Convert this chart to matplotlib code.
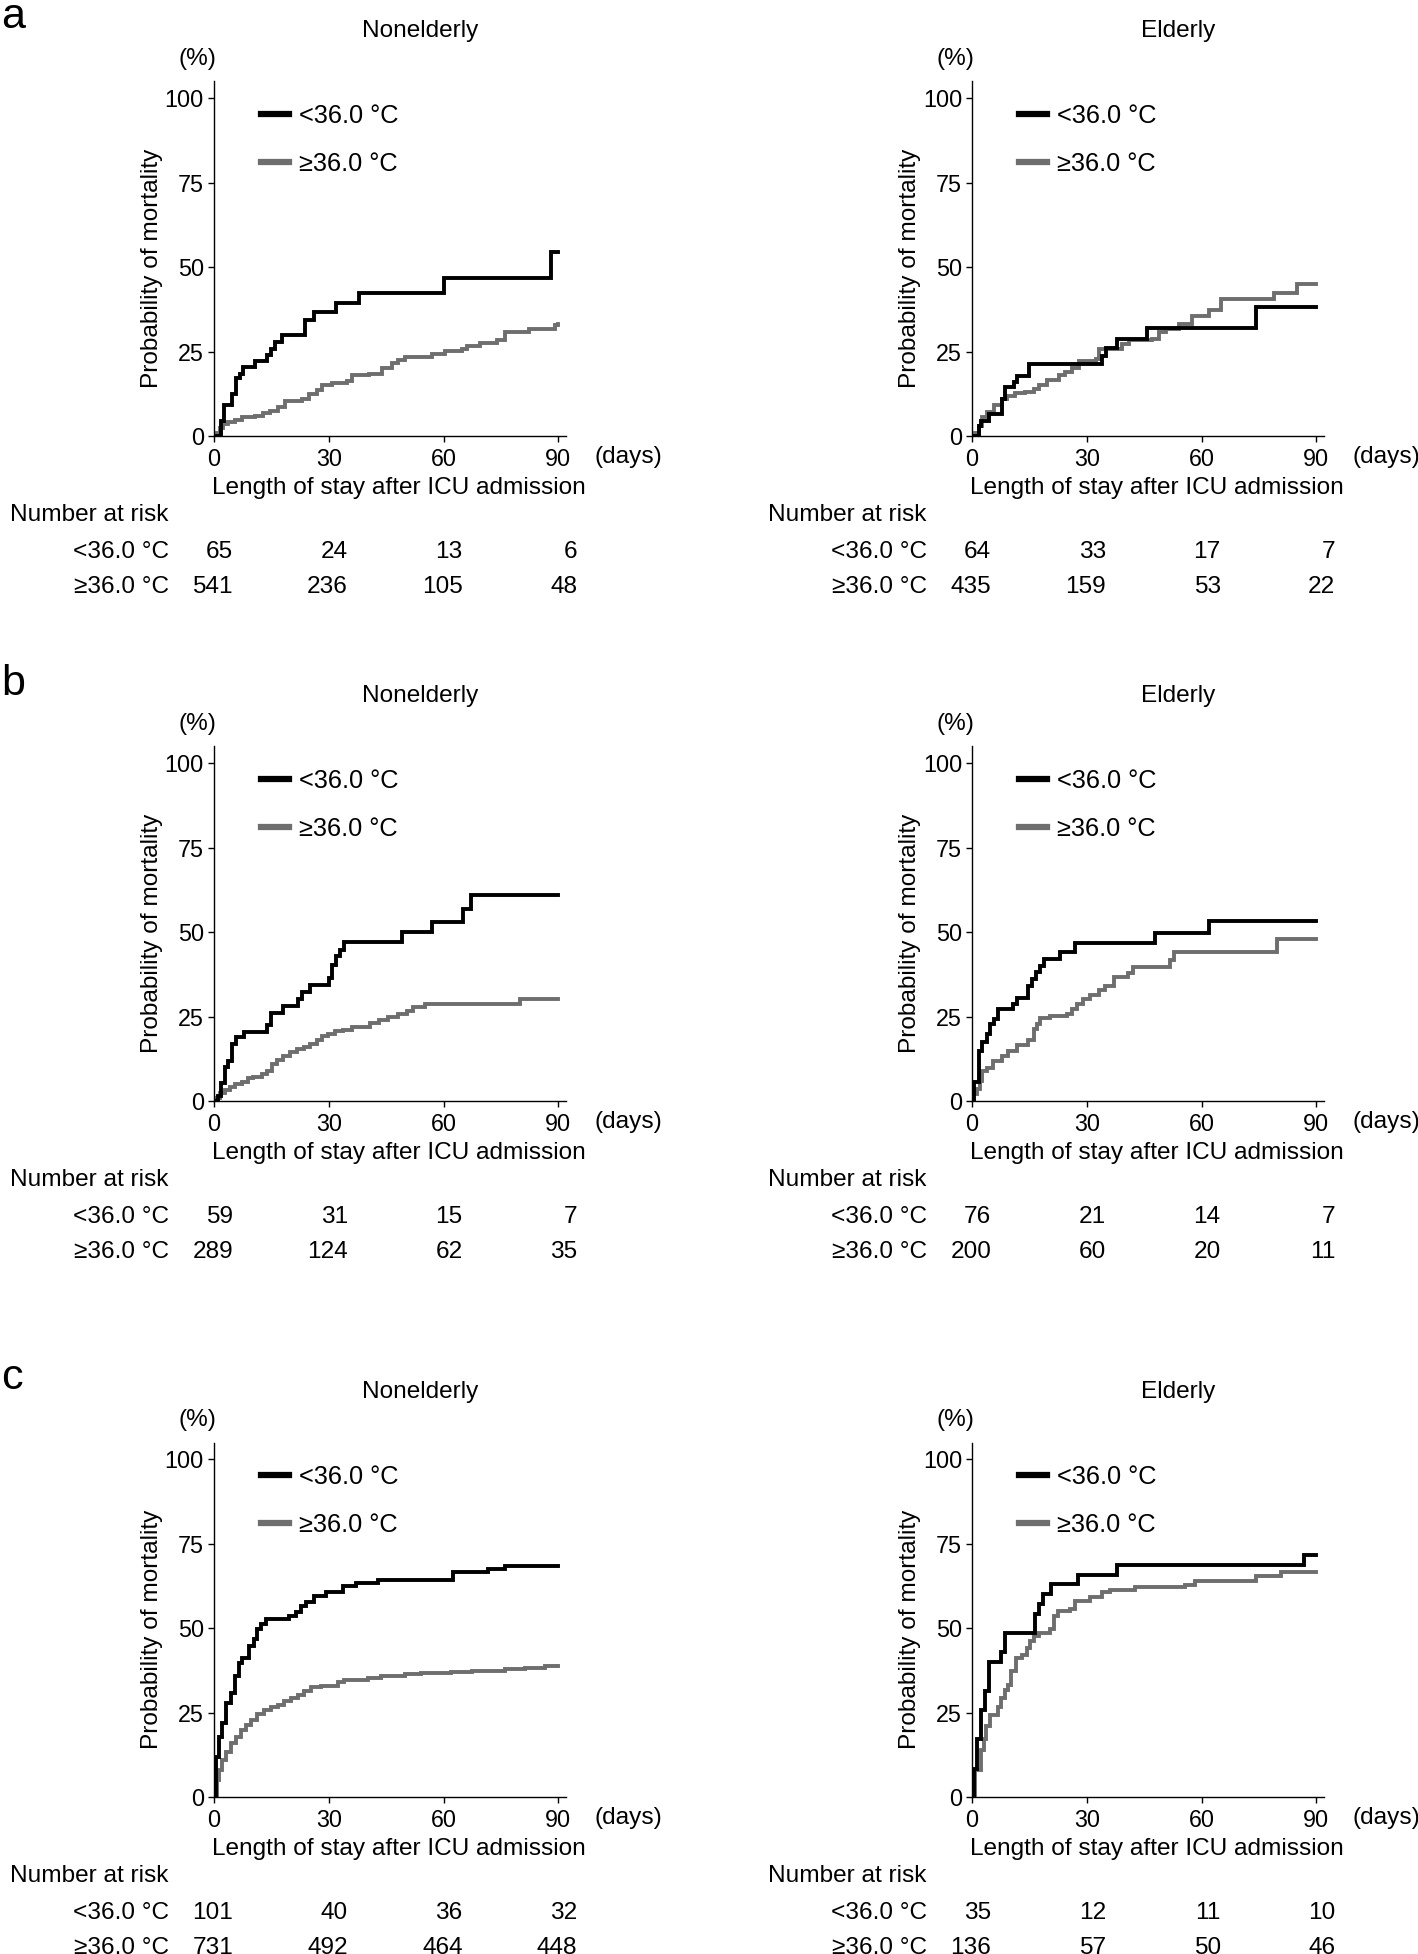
import matplotlib
matplotlib.use("Agg")
import matplotlib.pyplot as plt
from matplotlib.lines import Line2D
import matplotlib.transforms as mtransforms

plt.rcParams['font.family'] = ['Liberation Sans', 'DejaVu Sans']
plt.rcParams['font.size'] = 17.6

# ---------------- data (days, cumulative mortality %) ----------------
# Panel a, Nonelderly
a_non_lo_t = [0, 1.7, 2.6, 4.6, 5.8, 6.7, 7.7, 10.7, 13.9, 14.8, 16.0, 17.9, 23.8, 26.2, 31.8, 37.9, 60.0, 88.1, 90]
a_non_lo_y = [0, 4.5, 9.2, 12.4, 17.1, 18.4, 20.4, 22.1, 23.9, 25.8, 27.8, 30.0, 34.3, 36.8, 39.5, 42.4, 46.7, 54.5, 54.5]
a_non_hi_t = [0, 0.7, 1.6, 2.4, 3.7, 5.5, 7.2, 10.7, 12.9, 14.6, 16.8, 18.6, 22.9, 24.7, 26.9, 28.2, 30.8, 34.7, 36.0,
              40.4, 43.9, 46.5, 48.2, 50.0, 56.9, 60.4, 64.8, 66.1, 69.6, 73.9, 76.1, 82.2, 89.2, 90]
a_non_hi_y = [0, 1.0, 2.5, 3.5, 4.2, 4.8, 5.5, 6.0, 6.7, 7.5, 8.6, 10.4, 11.1, 12.4, 13.6, 15.2, 15.7, 16.4, 18.2,
              18.4, 20.1, 21.6, 22.4, 23.4, 24.4, 25.3, 25.8, 26.8, 27.5, 28.3, 30.8, 31.8, 32.8, 33.3]
# Panel a, Elderly
a_eld_lo_t = [0, 1.7, 2.4, 4.4, 7.8, 8.7, 10.9, 11.8, 15.0, 34.0, 34.9, 37.9, 45.8, 74.1, 90]
a_eld_lo_y = [0, 3.0, 4.5, 6.5, 10.9, 14.4, 15.9, 17.9, 21.4, 23.6, 26.1, 28.8, 32.0, 38.3, 38.3]
a_eld_hi_t = [0, 0.7, 1.7, 2.6, 3.9, 5.7, 7.8, 9.2, 11.3, 13.9, 16.1, 17.4, 19.6, 22.7, 24.4, 26.2, 27.9, 32.3, 33.1,
              39.2, 41.0, 47.1, 48.8, 50.6, 54.1, 57.5, 61.9, 65.0, 78.9, 85.0, 90]
a_eld_hi_y = [0, 1.0, 3.0, 5.5, 7.0, 9.2, 10.9, 11.9, 12.6, 13.0, 13.9, 15.2, 16.6, 18.1, 18.9, 20.2, 22.2, 22.9, 25.8,
              27.3, 28.3, 28.8, 30.8, 31.8, 33.1, 35.5, 37.3, 40.5, 42.4, 45.0, 45.0]
# Panel b, Nonelderly
b_non_lo_t = [0, 1.0, 1.8, 2.9, 3.75, 4.6, 5.75, 7.85, 13.95, 14.8, 17.96, 22.06, 22.93, 25.1, 30.1, 30.95, 31.8,
              32.96, 34.1, 49.1, 56.9, 65.0, 67.1, 90]
b_non_lo_y = [0, 1.5, 5.2, 10.1, 11.9, 16.9, 18.9, 20.4, 22.4, 26.1, 28.1, 30.3, 32.3, 34.3, 36.5, 40.3, 42.9,
              44.7, 47.2, 50.0, 53.0, 57.0, 60.9, 60.9]
b_non_hi_t = [0, 0.3, 1.6, 2.9, 4.2, 5.5, 7.2, 9.0, 10.3, 12.5, 13.8, 15.1, 16.4, 18.1, 19.9, 21.6, 23.4, 25.1, 26.9,
              28.2, 29.9, 31.6, 33.8, 36.0, 40.8, 43.0, 45.6, 48.2, 50.4, 52.1, 55.2, 80.0, 90]
b_non_hi_y = [0, 1.0, 2.5, 3.2, 4.0, 5.0, 5.7, 6.8, 7.2, 8.0, 8.9, 11.1, 12.2, 13.4, 14.6, 15.4, 15.9, 16.9, 18.1,
              19.4, 19.9, 20.6, 21.1, 21.9, 23.1, 23.9, 24.9, 25.8, 26.8, 27.8, 28.8, 30.3, 30.3]
# Panel b, Elderly
b_eld_lo_t = [0, 0.6, 1.7, 2.7, 3.8, 4.7, 5.8, 6.7, 10.8, 11.7, 14.7, 15.6, 16.7, 17.8, 18.7, 23.0, 27.0, 47.9, 62.0, 90]
b_eld_lo_y = [0, 5.5, 14.7, 17.4, 19.9, 22.9, 24.4, 27.3, 28.8, 30.5, 34.0, 36.0, 38.3, 40.0, 42.0, 44.2, 46.7,
              49.9, 53.2, 53.2]
b_eld_hi_t = [0, 0.35, 1.2, 2.1, 2.5, 3.8, 5.6, 7.8, 9.5, 11.7, 14.7, 16.1, 16.9, 17.8, 20.4, 24.8, 26.1, 27.4, 29.1,
              30.9, 33.1, 34.8, 37.0, 40.9, 42.2, 51.8, 52.7, 79.8, 90]
b_eld_hi_y = [0, 2.0, 3.5, 6.0, 8.9, 9.7, 11.9, 13.4, 14.7, 16.7, 18.1, 21.4, 22.9, 24.7, 25.3, 25.8, 27.3, 28.6,
              30.3, 31.3, 32.8, 34.0, 36.8, 37.8, 39.8, 41.7, 44.0, 47.9, 47.9]
# Panel c, Nonelderly
c_non_lo_t = [0, 0.44, 1.31, 2.19, 3.23, 4.37, 5.42, 6.47, 7.43, 9.18, 10.49, 11.36, 12.41, 13.55, 19.67, 21.42,
              22.73, 24.04, 26.22, 29.28, 33.65, 37.15, 42.83, 62.5, 71.68, 76.05, 90]
c_non_lo_y = [0, 11.9, 17.7, 21.9, 27.8, 30.8, 35.8, 39.8, 41.3, 44.7, 46.7, 49.7, 51.2, 52.7, 53.5, 54.7,
              56.5, 57.7, 59.4, 60.6, 62.4, 63.4, 64.3, 66.6, 67.4, 68.4, 68.4]
c_non_hi_t = [0, 0.7, 1.31, 2.19, 3.06, 4.37, 5.68, 6.99, 8.30, 9.62, 11.36, 13.11, 14.86, 16.61, 18.36, 20.1,
              21.85, 23.6, 25.35, 27.97, 32.34, 34.09, 36.71, 40.21, 43.71, 49.83, 54.2, 62.06, 67.31, 76.05,
              81.29, 86.54, 90]
c_non_hi_y = [0, 5.0, 8.0, 10.9, 13.4, 15.9, 17.9, 19.9, 21.4, 22.9, 24.7, 25.8, 26.8, 27.3, 28.3, 29.3,
              30.3, 31.5, 32.5, 33.0, 34.0, 34.6, 34.8, 35.1, 35.8, 36.3, 36.6, 37.0, 37.3, 37.8,
              38.3, 38.8, 38.8]
# Panel c, Elderly
c_eld_lo_t = [0, 0.44, 1.4, 2.45, 3.32, 4.37, 7.69, 8.57, 16.43, 17.48, 18.62, 20.63, 27.8, 37.85, 86.8, 90]
c_eld_lo_y = [0, 8.4, 17.1, 25.8, 31.3, 40.0, 42.9, 48.5, 54.2, 57.2, 60.1, 63.1, 65.9, 68.8, 71.6, 71.6]
c_eld_hi_t = [0, 0.9, 2.45, 3.15, 3.76, 4.63, 6.82, 7.69, 8.57, 9.44, 10.31, 11.63, 12.94, 14.25, 15.12, 16.26,
              17.48, 20.37, 21.5, 22.55, 25.61, 26.92, 30.86, 33.92, 36.1, 42.66, 55.77, 58.39, 74.13, 80.68, 90]
c_eld_hi_y = [0, 8.0, 14.0, 17.1, 20.9, 24.4, 26.8, 29.3, 31.8, 33.3, 37.3, 41.3, 42.2, 44.2, 46.2, 47.7,
              48.7, 49.9, 53.7, 55.2, 55.7, 58.2, 59.1, 60.6, 61.3, 62.1, 62.8, 64.1, 65.4, 66.6, 66.6]

# Number at risk at days 0, 30, 60, 90
risk_days = [0, 30, 60, 90]
a_non_risk_lo = [65, 24, 13, 6]
a_non_risk_hi = [541, 236, 105, 48]
a_eld_risk_lo = [64, 33, 17, 7]
a_eld_risk_hi = [435, 159, 53, 22]
b_non_risk_lo = [59, 31, 15, 7]
b_non_risk_hi = [289, 124, 62, 35]
b_eld_risk_lo = [76, 21, 14, 7]
b_eld_risk_hi = [200, 60, 20, 11]
c_non_risk_lo = [101, 40, 36, 32]
c_non_risk_hi = [731, 492, 464, 448]
c_eld_risk_lo = [35, 12, 11, 10]
c_eld_risk_hi = [136, 57, 50, 46]

group_labels = ['<36.0 °C', '≥36.0 °C']
panel_titles = ['Nonelderly', 'Elderly']
panel_letters = ['a', 'b', 'c']
x_ticks = [0, 30, 60, 90]
y_ticks = [0, 25, 50, 75, 100]

# ---------------- styling ----------------
BLACK = '#000000'
GRAY = '#6e6e6e'
LW = 2.8
FS = 17.6
FS_TICK = 16.8
FS_LEG = 18.3

W, H = 1418, 1954
fig = plt.figure(figsize=(W / 100, H / 100), dpi=100)

ax_w = 352 / W
ax_h = 354.5 / H
lefts = [214 / W, 972 / W]
bottoms = [1 - 436 / H, 1 - 1101 / H, 1 - 1797 / H]
letter_y = [1 - 28 / H, 1 - 695 / H, 1 - 1389 / H]

panels = [
    [(a_non_lo_t, a_non_lo_y, a_non_hi_t, a_non_hi_y, a_non_risk_lo, a_non_risk_hi),
     (a_eld_lo_t, a_eld_lo_y, a_eld_hi_t, a_eld_hi_y, a_eld_risk_lo, a_eld_risk_hi)],
    [(b_non_lo_t, b_non_lo_y, b_non_hi_t, b_non_hi_y, b_non_risk_lo, b_non_risk_hi),
     (b_eld_lo_t, b_eld_lo_y, b_eld_hi_t, b_eld_hi_y, b_eld_risk_lo, b_eld_risk_hi)],
    [(c_non_lo_t, c_non_lo_y, c_non_hi_t, c_non_hi_y, c_non_risk_lo, c_non_risk_hi),
     (c_eld_lo_t, c_eld_lo_y, c_eld_hi_t, c_eld_hi_y, c_eld_risk_lo, c_eld_risk_hi)],
]

for r in range(3):
    fig.text(0.001, letter_y[r], panel_letters[r], fontsize=31, ha='left', va='baseline')
    for c in range(2):
        lo_t, lo_y, hi_t, hi_y, rlo, rhi = panels[r][c]
        ax = fig.add_axes([lefts[c], bottoms[r], ax_w, ax_h])
        ax.step(hi_t, hi_y, where='post', color=GRAY, lw=LW, solid_joinstyle='miter')
        ax.step(lo_t, lo_y, where='post', color=BLACK, lw=LW, solid_joinstyle='miter')
        ax.set_xlim(0, 92)
        ax.set_ylim(0, 105)
        ax.set_xticks(x_ticks)
        ax.set_yticks(y_ticks)
        for s in ['top', 'right']:
            ax.spines[s].set_visible(False)
        for s in ['left', 'bottom']:
            ax.spines[s].set_linewidth(1.0)
        ax.tick_params(direction='out', length=4.2, width=1.0, labelsize=FS_TICK, pad=4.5)
        ax.tick_params(axis='y', pad=3.0)

        # legend
        handles = [Line2D([], [], color=BLACK, lw=4.5), Line2D([], [], color=GRAY, lw=4.5)]
        ax.legend(handles, group_labels, loc='upper left', bbox_to_anchor=(0.134, 0.937),
                  frameon=False, fontsize=FS_LEG, handlelength=1.1, handletextpad=0.4,
                  labelspacing=0.95, borderpad=0, borderaxespad=0)

        ax.text(0.585, 1.142, panel_titles[c], transform=ax.transAxes, ha='center', va='center', fontsize=FS)
        ax.text(-0.046, 1.063, '(%)', transform=ax.transAxes, ha='center', va='center', fontsize=FS)
        ax.text(-0.177, 0.472, 'Probability of mortality', transform=ax.transAxes, rotation=90,
                ha='center', va='center', fontsize=FS)
        ax.text(0.524, -0.147, 'Length of stay after ICU admission', transform=ax.transAxes,
                ha='center', va='center', fontsize=FS)
        ax.text(1.080, -0.059, '(days)', transform=ax.transAxes, ha='left', va='center', fontsize=FS)

        # number at risk
        ax.text(-0.580, -0.222, 'Number at risk', transform=ax.transAxes, ha='left', va='center', fontsize=FS)
        ax.text(-0.127, -0.326, group_labels[0], transform=ax.transAxes, ha='right', va='center', fontsize=FS)
        ax.text(-0.127, -0.425, group_labels[1], transform=ax.transAxes, ha='right', va='center', fontsize=FS)
        trans = mtransforms.blended_transform_factory(ax.transData, ax.transAxes)
        for d, nlo, nhi in zip(risk_days, rlo, rhi):
            ax.text(d + 5.0, -0.326, str(nlo), transform=trans, ha='right', va='center', fontsize=FS)
            ax.text(d + 5.0, -0.425, str(nhi), transform=trans, ha='right', va='center', fontsize=FS)

fig.savefig('out.png', dpi=100)
